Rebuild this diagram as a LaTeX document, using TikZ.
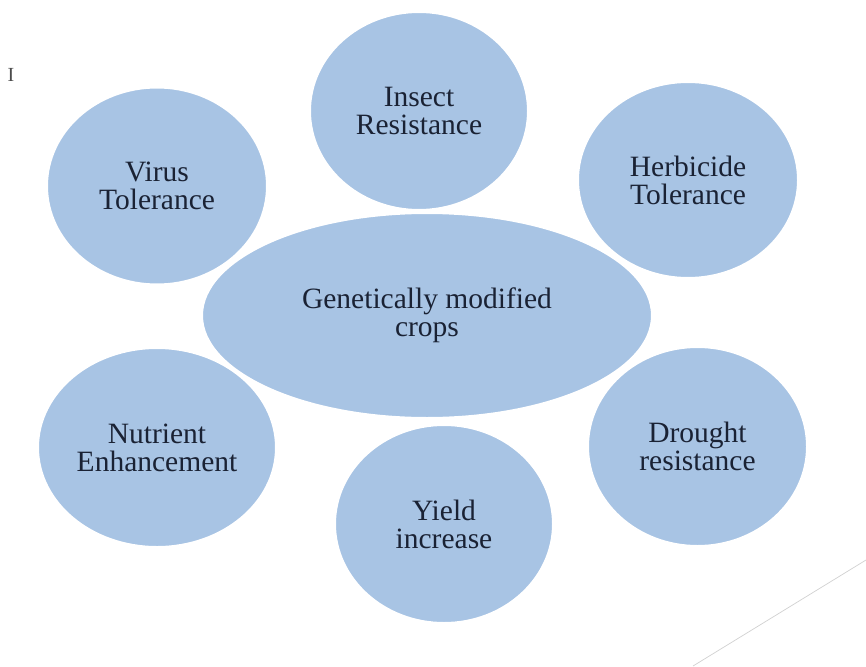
\documentclass[tikz,border=0pt]{standalone}
\usepackage{fontspec}
\setmainfont{Liberation Serif}
\usetikzlibrary{shapes.geometric}
\definecolor{bubblec}{RGB}{168,196,228}
\definecolor{ink}{RGB}{26,34,52}
\begin{document}
\begin{tikzpicture}[x=1pt,y=-1pt,
  bubble/.style={ellipse, fill=bubblec, draw=white, line width=2pt, inner sep=0pt,
    text=ink, font=\fontsize{29.5}{28}\selectfont, align=center}]
\useasboundingbox (0,0) rectangle (866,666);
\fill[white] (0,0) rectangle (866,666);
\node[bubble, minimum width=450pt, minimum height=205pt] (gm) at (427,315.5) {Genetically modified\\crops};
\node[bubble, minimum width=218pt, minimum height=198pt] (ins) at (419,111) {Insect\\Resistance};
\node[bubble, minimum width=220pt, minimum height=197pt] (vir) at (157,186) {Virus\\Tolerance};
\node[bubble, minimum width=220pt, minimum height=196pt] (herb) at (688,180) {Herbicide\\Tolerance};
\node[bubble, minimum width=238pt, minimum height=199pt] (nut) at (157,447.5) {Nutrient\\Enhancement};
\node[bubble, minimum width=218pt, minimum height=198pt] (yld) at (444,524) {Yield\\increase};
\node[bubble, minimum width=219pt, minimum height=199pt] (dro) at (697.5,446.5) {Drought\\resistance};
\node[text=black!70, font=\fontsize{20}{20}\selectfont, inner sep=0pt] (mark) at (11,75) {I};
\coordinate (l1) at (693,666);
\coordinate (l2) at (866,560);
\draw[black!18, line width=0.7pt] (l1) -- (l2);
\end{tikzpicture}
\end{document}
